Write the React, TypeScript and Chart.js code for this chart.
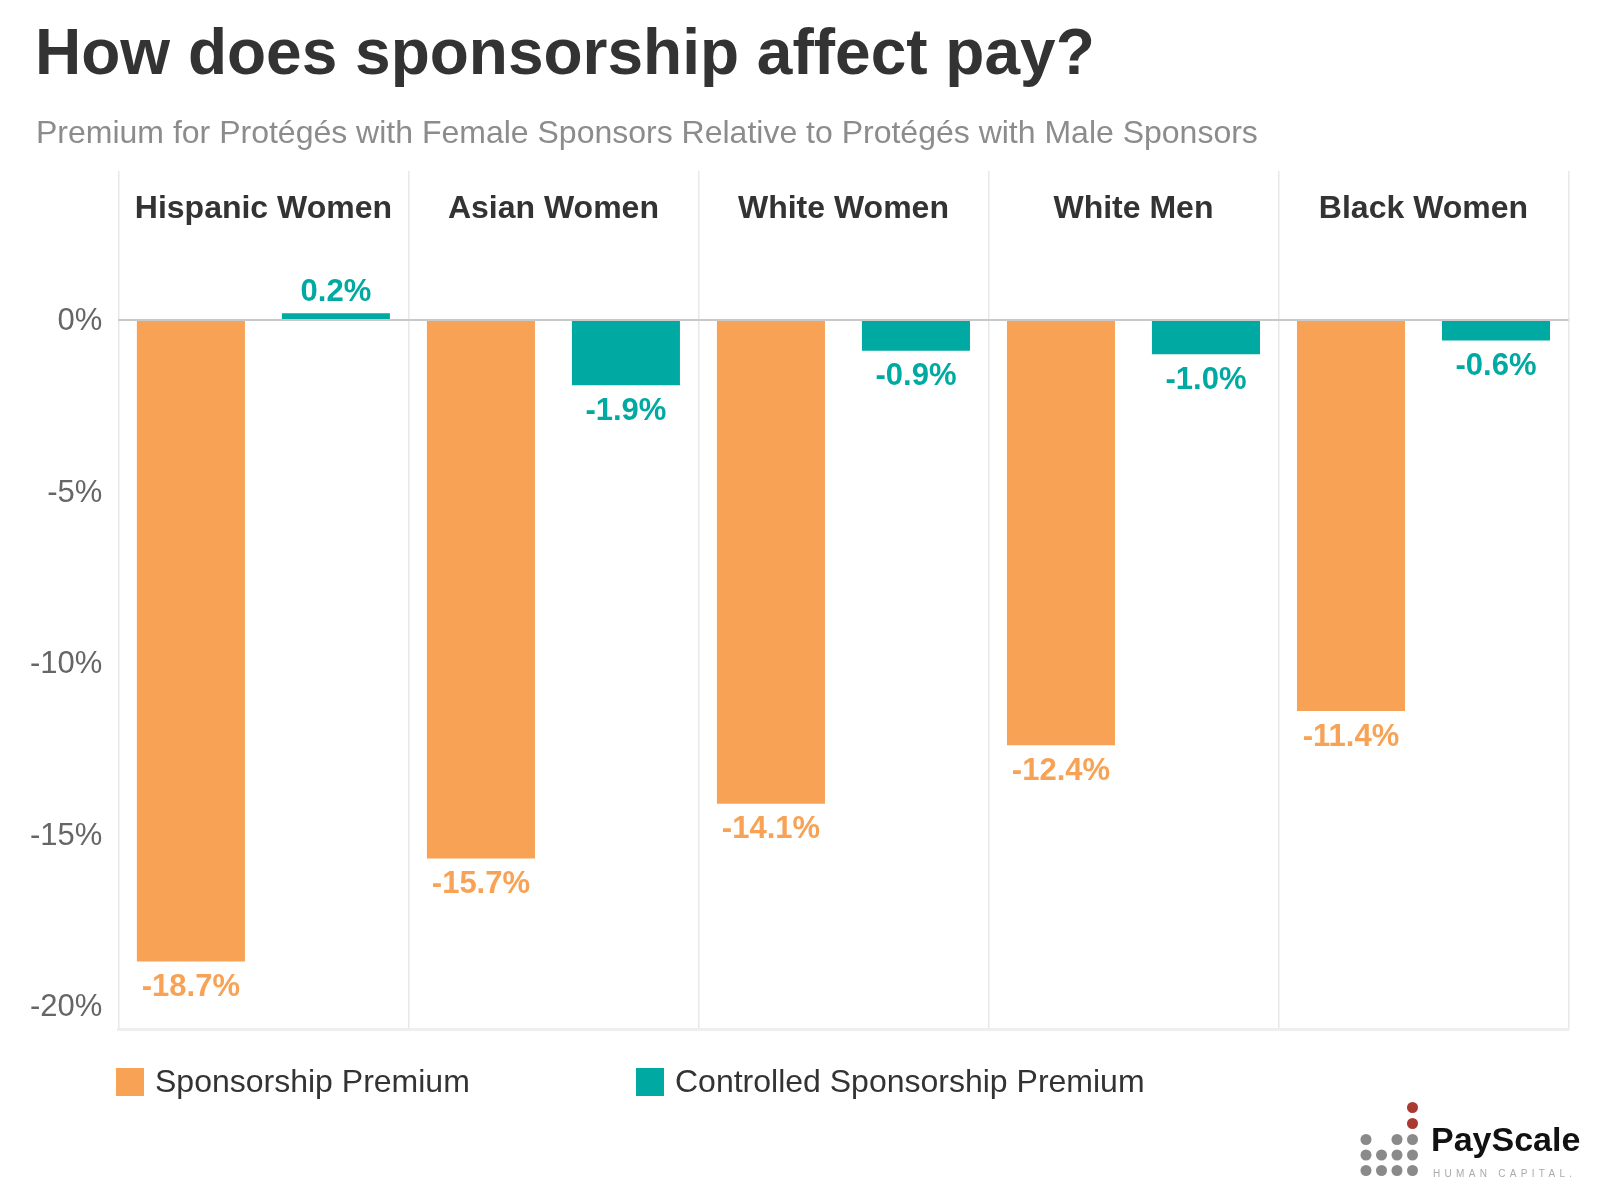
import React, { useEffect, useRef } from 'react';
import { Chart, registerables } from 'chart.js';

Chart.register(...registerables);

const categories = ['Hispanic Women', 'Asian Women', 'White Women', 'White Men', 'Black Women'];
const sponsorshipPremium = [-18.7, -15.7, -14.1, -12.4, -11.4];
const controlledPremium = [0.2, -1.9, -0.9, -1.0, -0.6];
const yTicks = [0, -5, -10, -15, -20];
const seriesNames = ['Sponsorship Premium', 'Controlled Sponsorship Premium'];
const titleText = 'How does sponsorship affect pay?';
const subtitleText = 'Premium for Protégés with Female Sponsors Relative to Protégés with Male Sponsors';

const ORANGE = '#F7A255';
const TEAL = '#00AAA2';
const FONT = '"Liberation Sans", Arial, Helvetica, sans-serif';

const decorPlugin = {
  id: 'decor',
  afterDatasetsDraw(chart: any) {
    const ctx = chart.ctx;
    ctx.save();
    chart.data.datasets.forEach((ds: any, di: number) => {
      const meta = chart.getDatasetMeta(di);
      meta.data.forEach((bar: any, i: number) => {
        const v = ds.data[i] as number;
        ctx.font = `bold 31px ${FONT}`;
        ctx.fillStyle = ds.backgroundColor;
        ctx.textAlign = 'center';
        ctx.textBaseline = 'alphabetic';
        const y = v >= 0 ? bar.y - 12.5 : bar.y + 34.5;
        ctx.fillText(v.toFixed(1) + '%', bar.x, y);
      });
    });
    ctx.restore();
  },
  afterDraw(chart: any) {
    const ctx = chart.ctx;
    ctx.save();
    ctx.textBaseline = 'alphabetic';
    // title
    ctx.textAlign = 'left';
    ctx.fillStyle = '#333333';
    ctx.font = `bold 64px ${FONT}`;
    ctx.fillText(titleText, 35, 74);
    // subtitle
    ctx.fillStyle = '#8c8c8c';
    ctx.font = `32px ${FONT}`;
    ctx.fillText(subtitleText, 36, 143);
    // category headers
    const xs = chart.scales.x;
    ctx.textAlign = 'center';
    ctx.fillStyle = '#333333';
    ctx.font = `bold 32px ${FONT}`;
    categories.forEach((c, i) => {
      ctx.fillText(c, xs.getPixelForValue(i), 218);
    });
    // legend
    const legendX = [116, 636];
    ctx.textAlign = 'left';
    ctx.font = `32px ${FONT}`;
    chart.data.datasets.forEach((ds: any, di: number) => {
      ctx.fillStyle = ds.backgroundColor;
      ctx.fillRect(legendX[di], 1068, 28, 28);
      ctx.fillStyle = '#333333';
      ctx.fillText(ds.label, legendX[di] + 39, 1092);
    });
    // logo
    const cols = [1366, 1381.5, 1397, 1412.5];
    const rows = [1139.5, 1155, 1170.5];
    ctx.fillStyle = '#8a8a8a';
    rows.forEach((ry, r) => {
      cols.forEach((cx, c) => {
        if (r === 0 && c === 1) return;
        ctx.beginPath();
        ctx.arc(cx, ry, 5.5, 0, Math.PI * 2);
        ctx.fill();
      });
    });
    ctx.fillStyle = '#a83a33';
    [1107.5, 1123.5].forEach((ry) => {
      ctx.beginPath();
      ctx.arc(cols[3], ry, 5.5, 0, Math.PI * 2);
      ctx.fill();
    });
    ctx.fillStyle = '#111111';
    ctx.font = `bold 34px ${FONT}`;
    ctx.fillText('PayScale', 1431, 1151);
    ctx.fillStyle = '#aaaaaa';
    ctx.font = `10px ${FONT}`;
    (ctx as any).letterSpacing = '4.3px';
    ctx.fillText('HUMAN CAPITAL.', 1433, 1177);
    ctx.restore();
  },
};

export default function App() {
  const canvasRef = useRef<HTMLCanvasElement | null>(null);

  useEffect(() => {
    if (!canvasRef.current) return;
    const chart = new Chart(canvasRef.current, {
      type: 'bar',
      data: {
        labels: categories,
        datasets: [
          {
            label: seriesNames[0],
            data: sponsorshipPremium,
            backgroundColor: ORANGE,
            categoryPercentage: 1.0,
            barPercentage: 0.745,
          },
          {
            label: seriesNames[1],
            data: controlledPremium,
            backgroundColor: TEAL,
            categoryPercentage: 1.0,
            barPercentage: 0.745,
          },
        ],
      },
      options: {
        responsive: false,
        animation: false,
        devicePixelRatio: 1,
        layout: { padding: { left: 0, top: 171, right: 31.5, bottom: 171 } },
        plugins: {
          legend: { display: false },
          title: { display: false },
          tooltip: { enabled: false },
        },
        scales: {
          x: {
            type: 'category',
            grid: { display: true, offset: true, color: '#e8e8e8', lineWidth: 1.5, drawTicks: false },
            border: { display: true, color: '#eeeeee', width: 3 },
            ticks: { display: false },
            afterFit: (s: any) => {
              s.height = 0;
            },
          },
          y: {
            min: -20.67,
            max: 4.344,
            afterFit: (s: any) => {
              s.width = 118.4;
            },
            afterBuildTicks: (s: any) => {
              s.ticks = yTicks.map((v) => ({ value: v }));
            },
            grid: {
              color: (c: any) => (c.tick && c.tick.value === 0 ? '#c9c9c9' : 'rgba(0,0,0,0)'),
              lineWidth: 2,
              drawTicks: false,
            },
            border: { display: false },
            ticks: {
              color: '#666666',
              font: { family: FONT, size: 31 },
              padding: 16,
              labelOffset: 1.5,
              callback: (v: any) => v + '%',
            },
          },
        },
      },
      plugins: [decorPlugin],
    } as any);
    return () => chart.destroy();
  }, []);

  return (
    <div style={{ position: 'absolute', left: 0, top: 0, width: 1600, height: 1200, background: '#fff' }}>
      <canvas ref={canvasRef} width={1600} height={1200} style={{ display: 'block', width: 1600, height: 1200 }} />
    </div>
  );
}
